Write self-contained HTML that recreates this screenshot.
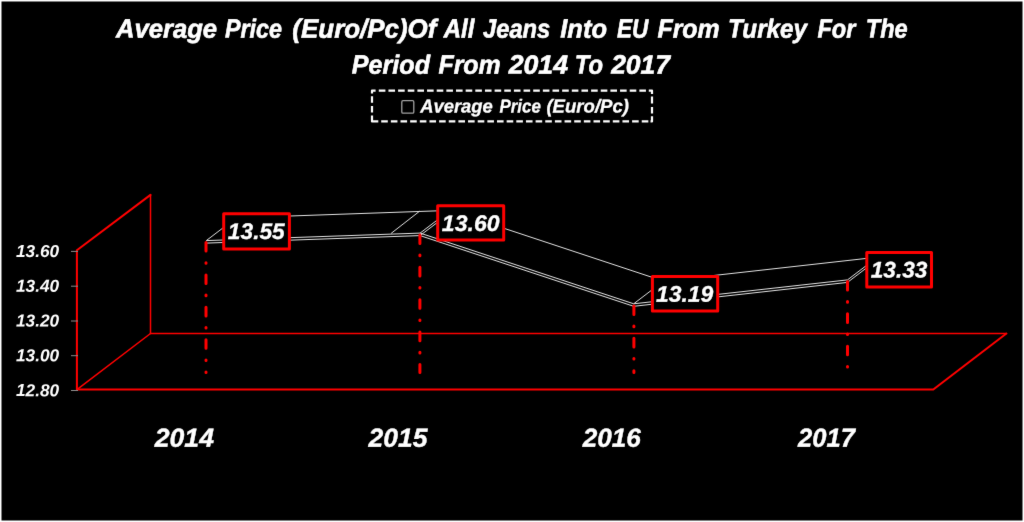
<!DOCTYPE html>
<html><head><meta charset="utf-8">
<style>
html,body{margin:0;padding:0;background:#fff;width:1024px;height:522px;overflow:hidden}
svg{display:block}
text{font-family:"Liberation Sans",sans-serif;font-weight:bold;font-style:italic;fill:#fff;text-rendering:geometricPrecision}
</style></head>
<body>
<svg width="1024" height="522" viewBox="0 0 1024 522">
<defs><filter id="soft" x="0" y="0" width="1024" height="522" filterUnits="userSpaceOnUse" color-interpolation-filters="sRGB"><feConvolveMatrix order="3" kernelMatrix="0.00524 0.06192 0.00524 0.06192 0.73137 0.06192 0.00524 0.06192 0.00524" divisor="1" edgeMode="duplicate"/></filter></defs>
<g filter="url(#soft)">
<rect x="0" y="0" width="1024" height="522" fill="#fff"/>
<rect x="1.5" y="1.5" width="1021" height="519" fill="#000"/>
<path d="M372,93.5L372,90.6L375.6,90.6M648.8,90.6L652,90.6L652,94.0M652,116.30000000000001L652,121.4L650.5,121.4M372,115.5L372,121.4L378.3,121.4M378.80,90.6h6.6M388.45,90.6h6.6M398.10,90.6h6.6M407.75,90.6h6.6M417.40,90.6h6.6M427.05,90.6h6.6M436.70,90.6h6.6M446.35,90.6h6.6M456.00,90.6h6.6M465.65,90.6h6.6M475.30,90.6h6.6M484.95,90.6h6.6M494.60,90.6h6.6M504.25,90.6h6.6M513.90,90.6h6.6M523.55,90.6h6.6M533.20,90.6h6.6M542.85,90.6h6.6M552.50,90.6h6.6M562.15,90.6h6.6M571.80,90.6h6.6M581.45,90.6h6.6M591.10,90.6h6.6M600.75,90.6h6.6M610.40,90.6h6.6M620.05,90.6h6.6M629.70,90.6h6.6M639.35,90.6h6.6M381.20,121.4h6.6M390.85,121.4h6.6M400.50,121.4h6.6M410.15,121.4h6.6M419.80,121.4h6.6M429.45,121.4h6.6M439.10,121.4h6.6M448.75,121.4h6.6M458.40,121.4h6.6M468.05,121.4h6.6M477.70,121.4h6.6M487.35,121.4h6.6M497.00,121.4h6.6M506.65,121.4h6.6M516.30,121.4h6.6M525.95,121.4h6.6M535.60,121.4h6.6M545.25,121.4h6.6M554.90,121.4h6.6M564.55,121.4h6.6M574.20,121.4h6.6M583.85,121.4h6.6M593.50,121.4h6.6M603.15,121.4h6.6M612.80,121.4h6.6M622.45,121.4h6.6M632.10,121.4h6.6M641.75,121.4h6.6M372,96.2V102.8M372,106.10000000000001V112.6M652,96.5V103.6M652,106.9V113.39999999999999" fill="none" stroke="#fff" stroke-width="2.2" stroke-linejoin="round"/>
<rect x="401.8" y="100.7" width="12" height="12.4" rx="1.2" fill="none" stroke="#a0a0a0" stroke-width="1.3"/>
<g fill="none" stroke="#ff0000" stroke-linejoin="round" stroke-linecap="round">
<line x1="150.5" y1="194.9" x2="150.5" y2="333.5" stroke-width="1.5"/>
<line x1="150.5" y1="333.5" x2="1006.4" y2="333.5" stroke-width="1.5"/>
<line x1="76.9" y1="389.55" x2="150.5" y2="333.5" stroke-width="1.5"/>
<polyline points="76.9,389.55 76.9,250.3 150.5,194.9" stroke-width="2"/>
<polyline points="76.9,389.55 933.3,389.55 1006.4,333.5" stroke-width="2"/>
</g>
<g stroke="#8c8c8c" stroke-width="1">
<line x1="71" y1="251.4" x2="78" y2="251.4"/>
<line x1="71" y1="286.2" x2="78" y2="286.2"/>
<line x1="71" y1="321.0" x2="78" y2="321.0"/>
<line x1="71" y1="355.7" x2="78" y2="355.7"/>
<line x1="71" y1="390.5" x2="78" y2="390.5"/>
</g>
<g fill="none" stroke="#e0e0e0" stroke-width="1">
<line x1="206.3" y1="240.6" x2="420.1" y2="233.1"/>
<line x1="206.3" y1="243.1" x2="420.1" y2="235.6"/>
<line x1="236.1" y1="217.9" x2="449.9" y2="210.4"/>
<line x1="206.3" y1="240.6" x2="236.1" y2="217.9"/>
<line x1="391.1" y1="233.4" x2="419.6" y2="211.2"/>
<line x1="420.1" y1="233.1" x2="449.9" y2="210.4"/>
<line x1="420.1" y1="235.6" x2="449.9" y2="212.9"/>
<line x1="420.1" y1="233.1" x2="633.7" y2="303.8"/>
<line x1="420.1" y1="235.6" x2="633.7" y2="306.3"/>
<line x1="449.9" y1="210.4" x2="663.5" y2="281.1"/>
<line x1="633.7" y1="303.8" x2="663.5" y2="281.1"/>
<line x1="633.7" y1="303.8" x2="847.5" y2="279.9"/>
<line x1="633.7" y1="306.3" x2="847.5" y2="282.4"/>
<line x1="663.5" y1="281.1" x2="877.3" y2="257.2"/>
<line x1="847.5" y1="279.9" x2="877.3" y2="257.2"/>
<line x1="847.5" y1="282.4" x2="877.3" y2="259.7"/>
</g>
<g stroke="#ff0000" stroke-width="3" stroke-linecap="round" stroke-dasharray="8.6 11.6 0.6 11.6" fill="none">
<line x1="206.0" y1="242.5" x2="206.0" y2="372.5"/>
<line x1="419.9" y1="234.9" x2="419.9" y2="372.5"/>
<line x1="633.9" y1="305.9" x2="633.9" y2="372.5"/>
<line x1="847.5" y1="281.4" x2="847.5" y2="372.5"/>
</g>
<g fill="#000" stroke="#ff0000" stroke-width="3" stroke-linejoin="round">
<rect x="223.7" y="213.7" width="65.7" height="35.3"/>
<rect x="437.7" y="205.7" width="66.0" height="34.4"/>
<rect x="652.4" y="276.4" width="65.3" height="34.6"/>
<rect x="866.8" y="252.4" width="64.7" height="34.7"/>
</g>
<text transform="translate(115.93,37.62) scale(0.9713,1) skewY(0.05)" font-size="26.4" stroke="#fff" stroke-width="0.6" stroke-linejoin="round">Average</text>
<text transform="translate(224.88,37.62) scale(0.8828,1) skewY(0.05)" font-size="26.4" stroke="#fff" stroke-width="0.6" stroke-linejoin="round">Price</text>
<text transform="translate(292.36,37.62) scale(0.9825,1) skewY(0.05)" font-size="26.4" stroke="#fff" stroke-width="0.6" stroke-linejoin="round">(Euro/Pc)Of</text>
<text transform="translate(443.78,37.62) scale(0.9078,1) skewY(0.05)" font-size="26.4" stroke="#fff" stroke-width="0.6" stroke-linejoin="round">All</text>
<text transform="translate(483.0,37.62) scale(0.8997,1) skewY(0.05)" font-size="26.4" stroke="#fff" stroke-width="0.6" stroke-linejoin="round">Jeans</text>
<text transform="translate(560.26,37.62) scale(0.9663,1) skewY(0.05)" font-size="26.4" stroke="#fff" stroke-width="0.6" stroke-linejoin="round">Into</text>
<text transform="translate(616.99,37.62) scale(0.8537,1) skewY(0.05)" font-size="26.4" stroke="#fff" stroke-width="0.6" stroke-linejoin="round">EU</text>
<text transform="translate(657.46,37.62) scale(0.9431,1) skewY(0.05)" font-size="26.4" stroke="#fff" stroke-width="0.6" stroke-linejoin="round">From</text>
<text transform="translate(728.02,37.62) scale(0.9174,1) skewY(0.05)" font-size="26.4" stroke="#fff" stroke-width="0.6" stroke-linejoin="round">Turkey</text>
<text transform="translate(817.48,37.62) scale(0.8914,1) skewY(0.05)" font-size="26.4" stroke="#fff" stroke-width="0.6" stroke-linejoin="round">For</text>
<text transform="translate(865.76,37.62) scale(0.8933,1) skewY(0.05)" font-size="26.4" stroke="#fff" stroke-width="0.6" stroke-linejoin="round">The</text>
<text transform="translate(351.86,73.62) scale(0.9515,1) skewY(0.05)" font-size="26.4" stroke="#fff" stroke-width="0.6" stroke-linejoin="round">Period</text>
<text transform="translate(438.46,73.62) scale(0.9431,1) skewY(0.05)" font-size="26.4" stroke="#fff" stroke-width="0.6" stroke-linejoin="round">From</text>
<text transform="translate(508.66,73.62) scale(1.011,1) skewY(0.05)" font-size="26.4" stroke="#fff" stroke-width="0.6" stroke-linejoin="round">2014</text>
<text transform="translate(574.85,73.62) scale(0.9026,1) skewY(0.05)" font-size="26.4" stroke="#fff" stroke-width="0.6" stroke-linejoin="round">To</text>
<text transform="translate(611.15,73.62) scale(1.0025,1) skewY(0.05)" font-size="26.4" stroke="#fff" stroke-width="0.6" stroke-linejoin="round">2017</text>
<text transform="translate(420.19,112.4) scale(0.9791,1) skewY(0.05)" font-size="18.8" stroke="#fff" stroke-width="0.3" stroke-linejoin="round">Average</text>
<text transform="translate(499.48,112.4) scale(0.8994,1) skewY(0.05)" font-size="18.8" stroke="#fff" stroke-width="0.3" stroke-linejoin="round">Price</text>
<text transform="translate(546.41,112.4) scale(0.9885,1) skewY(0.05)" font-size="18.8" stroke="#fff" stroke-width="0.3" stroke-linejoin="round">(Euro/Pc)</text>
<text transform="translate(154.71,446.69) scale(1.0215,1) skewY(0.05)" font-size="26.1" stroke="#fff" stroke-width="0.4" stroke-linejoin="round">2014</text>
<text transform="translate(368.61,446.69) scale(1.0136,1) skewY(0.05)" font-size="26.1" stroke="#fff" stroke-width="0.4" stroke-linejoin="round">2015</text>
<text transform="translate(582.7,446.69) scale(1.0017,1) skewY(0.05)" font-size="26.1" stroke="#fff" stroke-width="0.4" stroke-linejoin="round">2016</text>
<text transform="translate(797.99,446.69) scale(0.9808,1) skewY(0.05)" font-size="26.1" stroke="#fff" stroke-width="0.4" stroke-linejoin="round">2017</text>
<text transform="translate(227.85,238.94) scale(1.0062,1) skewY(0.05)" font-size="22.6" stroke="#fff" stroke-width="0.3" stroke-linejoin="round">13.55</text>
<text transform="translate(441.84,231.04) scale(1.0204,1) skewY(0.05)" font-size="22.6" stroke="#fff" stroke-width="0.3" stroke-linejoin="round">13.60</text>
<text transform="translate(655.95,301.74) scale(1.0151,1) skewY(0.05)" font-size="22.6" stroke="#fff" stroke-width="0.3" stroke-linejoin="round">13.19</text>
<text transform="translate(870.65,277.44) scale(1.0044,1) skewY(0.05)" font-size="22.6" stroke="#fff" stroke-width="0.3" stroke-linejoin="round">13.33</text>
<text transform="translate(15.95,257.0) scale(0.9977,1) skewY(0.05)" font-size="17.3">13.60</text>
<text transform="translate(15.95,291.78) scale(0.9977,1) skewY(0.05)" font-size="17.3">13.40</text>
<text transform="translate(15.95,326.56) scale(0.9977,1) skewY(0.05)" font-size="17.3">13.20</text>
<text transform="translate(15.95,361.34) scale(0.9977,1) skewY(0.05)" font-size="17.3">13.00</text>
<text transform="translate(15.95,396.12) scale(0.9977,1) skewY(0.05)" font-size="17.3">12.80</text>
</g>
</svg>
</body></html>
